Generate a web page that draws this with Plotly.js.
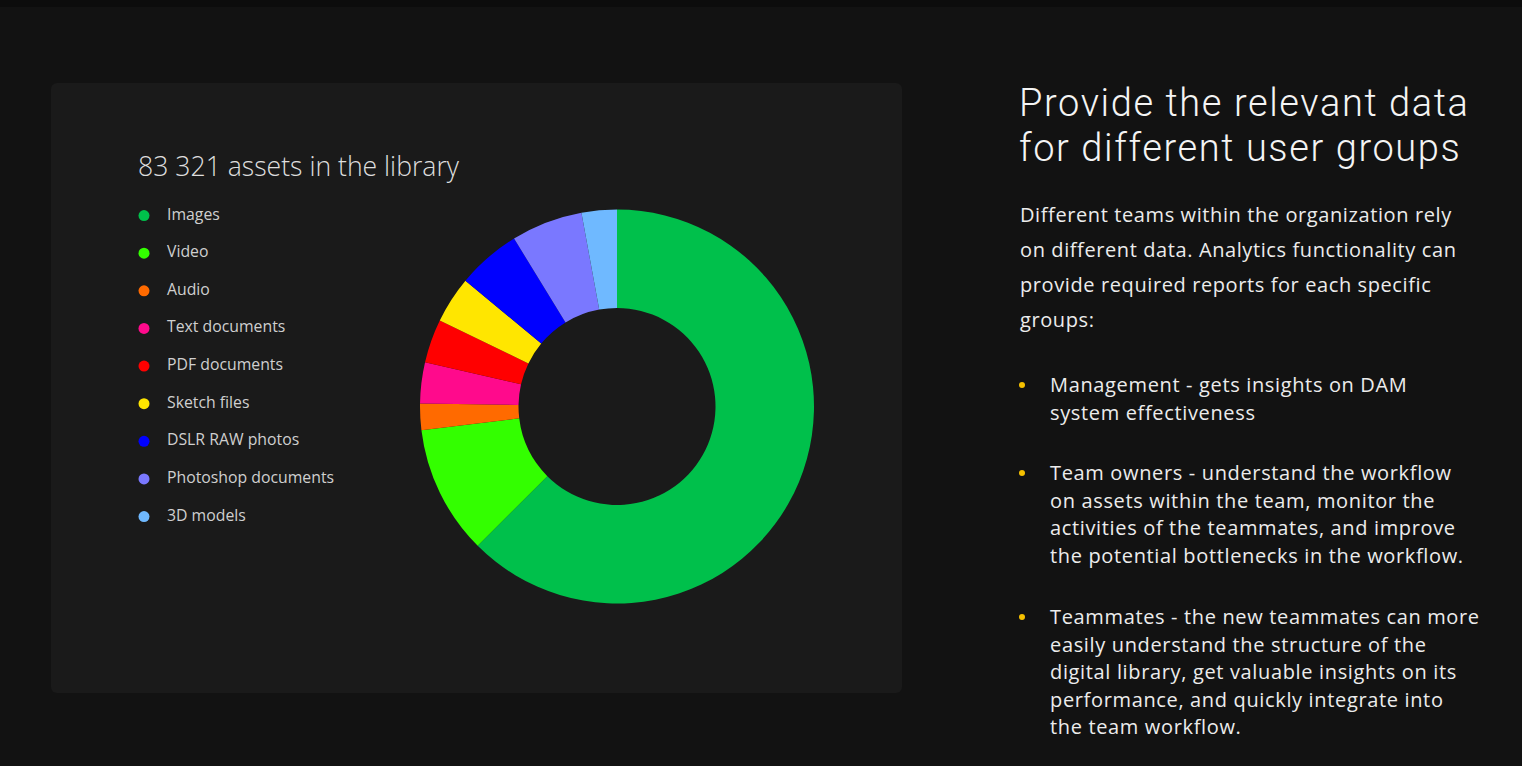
<!DOCTYPE html>
<html>
<head>
<meta charset="utf-8">
<script src="https://cdn.plot.ly/plotly-3.0.1.min.js"></script>
<style>
  html, body { margin:0; padding:0; width:1522px; height:766px; overflow:hidden; background:#121212; font-family:"Open Sans","Noto Sans",sans-serif; }
  #strip { position:absolute; left:0; top:0; width:1522px; height:7px; background:#0c0c0c; }
  #card { position:absolute; left:51px; top:83px; width:851px; height:610px; background:#1a1a1a; border-radius:6px; }
  #chart { position:absolute; left:0; top:0; width:1522px; height:766px; }
  .head { position:absolute; left:1019px; height:45px; font-family:Roboto,"Open Sans",sans-serif; font-size:38px; line-height:45px; font-weight:300; letter-spacing:1.6px; color:#f4f4f4; white-space:nowrap; }
  #para { position:absolute; left:1020px; top:197px; font-size:20px; line-height:35px; letter-spacing:0.6px; color:#ececec; white-space:nowrap; }
  .bullet { position:absolute; left:1050px; font-size:20px; line-height:27.6px; letter-spacing:0.65px; color:#ececec; white-space:nowrap; }
  .bullet::before { content:""; position:absolute; left:-31px; top:11px; width:6px; height:6px; border-radius:50%; background:#f5c000; }
</style>
</head>
<body>
<div id="strip"></div>
<div id="card"></div>
<div id="chart"></div>
<div class="head" style="top:81px">Provide the relevant data</div>
<div class="head" style="top:126px">for different user groups</div>
<div id="para">Different teams within the organization rely<br>on different data. Analytics functionality can<br>provide required reports for each specific<br>groups:</div>
<div class="bullet" style="top:371px">Management - gets insights on DAM<br>system effectiveness</div>
<div class="bullet" style="top:459px">Team owners - understand the workflow<br>on assets within the team, monitor the<br>activities of the teammates, and improve<br>the potential bottlenecks in the workflow.</div>
<div class="bullet" style="top:603px">Teammates - the new teammates can more<br>easily understand the structure of the<br>digital library, get valuable insights on its<br>performance, and quickly integrate into<br>the team workflow.</div>
<script>
const categories = ["Images","Video","Audio","Text documents","PDF documents","Sketch files","DSLR RAW photos","Photoshop documents","3D models"];
const assetCounts = [52075, 8818, 1805, 2801, 2986, 3194, 4351, 4883, 2408];
const sliceColors = ["#00c04b","#33ff00","#ff6a00","#ff0a8c","#ff0000","#ffe600","#0000ff","#7a78ff","#6fb9ff"];
const chartTitle = "83 321 assets in the library";

const W = 1522, H = 766;
const legendDotX = categories.map(() => 0);
const legendTextX = categories.map(() => 1.15);

const pie = {
  type: "pie",
  labels: categories,
  values: assetCounts,
  marker: { colors: sliceColors, line: { width: 0 } },
  hole: 0.5,
  sort: false,
  direction: "clockwise",
  rotation: 0,
  textinfo: "none",
  hoverinfo: "label+value+percent",
  showlegend: false,
  domain: { x: [420/W, 814/W], y: [(H-603.5)/H, (H-209.5)/H] }
};
const dots = {
  type: "scatter", mode: "markers",
  x: legendDotX, y: categories,
  marker: { color: sliceColors, size: 11 },
  hoverinfo: "skip", showlegend: false, cliponaxis: false
};
const labelsTrace = {
  type: "scatter", mode: "text",
  x: legendTextX, y: categories,
  text: categories, textposition: "middle right",
  textfont: { size: 15.8, color: "#cfcfcf", family: "Open Sans, Noto Sans, sans-serif", weight: 500 },
  hoverinfo: "skip", showlegend: false, cliponaxis: false
};

const rowTop = 196.8, rowBottom = 535.4;
const layout = {
  width: W, height: H,
  margin: { l: 0, r: 0, t: 0, b: 0 },
  paper_bgcolor: "rgba(0,0,0,0)",
  plot_bgcolor: "rgba(0,0,0,0)",
  font: { family: "Open Sans, Noto Sans, sans-serif" },
  title: {
    text: chartTitle,
    x: 138/W, xref: "paper", xanchor: "left",
    y: 1 - 167/H, yref: "paper", yanchor: "middle",
    font: { size: 26.6, color: "#dedede", weight: 300 }
  },
  xaxis: { domain: [124/W, 344/W], range: [-1, 10], visible: false, fixedrange: true },
  yaxis: { domain: [(H-rowBottom)/H, (H-rowTop)/H], type: "category", categoryorder: "array", categoryarray: categories, range: [8.5, -0.5], visible: false, fixedrange: true },
  showlegend: false
};
Plotly.newPlot("chart", [pie, dots, labelsTrace], layout, { displayModeBar: false });
</script>
</body>
</html>
